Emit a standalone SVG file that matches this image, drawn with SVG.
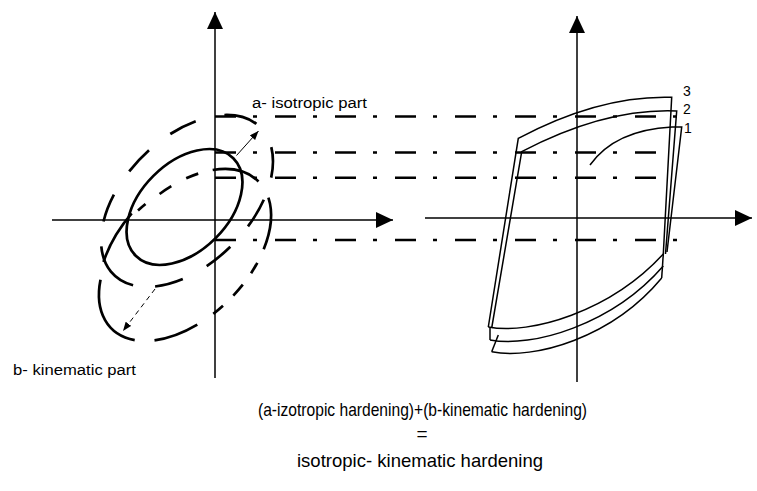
<svg xmlns="http://www.w3.org/2000/svg" width="757" height="491" viewBox="0 0 757 491">
<defs>
<marker id="axh" markerUnits="userSpaceOnUse" markerWidth="17" markerHeight="16" refX="17" refY="8" orient="auto"><path d="M0,0 L17,8 L0,16 z" fill="#000"/></marker>
<marker id="sah" markerUnits="userSpaceOnUse" markerWidth="9" markerHeight="7" refX="9" refY="3.5" orient="auto"><path d="M0,0 L9,3.5 L0,7 z" fill="#000"/></marker>
</defs>
<style>
.ax{stroke:#000;stroke-width:1.5;fill:none}
.dd{stroke:#000;stroke-width:2.5;fill:none;stroke-dasharray:21 17 4 18}
.el{stroke:#000;stroke-width:2.7;fill:none}
.lp{stroke:#000;stroke-width:1.5;fill:none;stroke-linejoin:miter}
.t{font-family:"Liberation Sans",Arial,sans-serif;fill:#000}
</style>
<rect width="757" height="491" fill="#fff"/>
<g id="axes-left">
<line class="ax" x1="215" y1="378" x2="215" y2="12" marker-end="url(#axh)"/>
<line class="ax" x1="52" y1="220" x2="393" y2="220" marker-end="url(#axh)"/>
</g>
<g id="axes-right">
<line class="ax" x1="577" y1="382" x2="577" y2="16" marker-end="url(#axh)"/>
<line class="ax" x1="425" y1="218" x2="752" y2="218" marker-end="url(#axh)"/>
</g>
<g id="connectors">
<line class="dd" x1="215" y1="116.5" x2="677" y2="116.5"/>
<line class="dd" x1="215" y1="152.5" x2="656" y2="152.5"/>
<line class="dd" x1="215" y1="177.7" x2="656" y2="177.7"/>
<line class="dd" x1="215" y1="240" x2="677" y2="240"/>
<line x1="236.5" y1="155.5" x2="258.5" y2="131" stroke="#000" stroke-width="1" marker-end="url(#sah)"/>
<line x1="155" y1="289" x2="123" y2="331" stroke="#000" stroke-width="1" stroke-dasharray="5 4" marker-end="url(#sah)"/>
</g>
<g id="initial-surface">
<ellipse class="el" cx="184.5" cy="207" rx="69" ry="44" transform="rotate(-45 184.5 207)"/>
</g>
<g id="isotropic-surface" class="el">
<path d="M224.4,115 A104,63 -45 0 1 256.4,123.9"/>
<path d="M170.3,134 A104,63 -45 0 1 195.7,121.2"/>
<path d="M129.2,171.3 A104,63 -45 0 1 149,150.2"/>
<path d="M103.5,221.5 A104,63 -45 0 1 113.9,194.7"/>
<path d="M133.1,285.3 A104,63 -45 0 1 101.3,246.3"/>
<path d="M182.8,279.1 A104,63 -45 0 1 155.1,286.5"/>
<path d="M230.3,246.8 A104,63 -45 0 1 206.7,266.1"/>
<path d="M263.8,199.8 A104,63 -45 0 1 248,226.4"/>
<path d="M271.3,147.1 A104,63 -45 0 1 271.2,177.6"/>
</g>
<g id="kinematic-surface" class="el">
<path d="M212.7,170 A104,63 -45 0 1 258.5,181.5"/>
<path d="M186.2,178.3 A104,63 -45 0 1 198.2,173.6"/>
<path d="M159.6,194 A104,63 -45 0 1 171.3,186.2"/>
<path d="M138,210.5 A104,63 -45 0 1 145.5,204"/>
<path d="M103.5,262 A104,63 -45 0 1 131.7,213.3"/>
<path d="M134.7,340.1 A104,63 -45 0 1 100.5,279.8"/>
<path d="M197.3,324.7 A104,63 -45 0 1 154.5,340.4"/>
<path d="M223,305.8 A104,63 -45 0 1 213.3,313.9"/>
<path d="M242.8,284.7 A104,63 -45 0 1 233.3,295.6"/>
<path d="M257.3,262.8 A104,63 -45 0 1 251.1,273.2"/>
<path d="M268.4,197.7 A104,63 -45 0 1 263.7,249.3"/>
</g>
<g id="loops" class="lp">
<path d="M488.3,327 L518.3,138.3 Q600,95 671.7,97.3 L663.3,254"/>
<path d="M491.7,328 L521.7,151.7 Q605,108 676.7,111 L665.5,254"/>
<path d="M590,165 Q615,130 672,127 L681.7,127 L667,252"/>
<path d="M488.3,327 C530,335 610,312 663.3,254"/>
<path d="M490,340 C532,348 612,325 663.3,266"/>
<path d="M491.7,351.7 C534,360 612,338 661.7,278"/>
<path d="M663.3,254 L661.7,278"/>
<path d="M490,328 L490,340"/>
<path d="M491.7,351.7 L498.3,335"/>
</g>
<g id="labels" class="t">
<text x="252" y="108" font-size="15.5" textLength="115" lengthAdjust="spacingAndGlyphs">a- isotropic part</text>
<text x="13" y="375" font-size="15.5" textLength="123" lengthAdjust="spacingAndGlyphs">b- kinematic part</text>
<text x="683" y="96" font-size="14">3</text>
<text x="683" y="114" font-size="14">2</text>
<text x="684" y="133" font-size="14">1</text>
<text x="258" y="416" font-size="19" textLength="329" lengthAdjust="spacingAndGlyphs">(a-izotropic hardening)+(b-kinematic hardening)</text>
<text x="422" y="440" font-size="19" text-anchor="middle">=</text>
<text x="297" y="467" font-size="19" textLength="246" lengthAdjust="spacingAndGlyphs">isotropic- kinematic hardening</text>
</g>
</svg>
